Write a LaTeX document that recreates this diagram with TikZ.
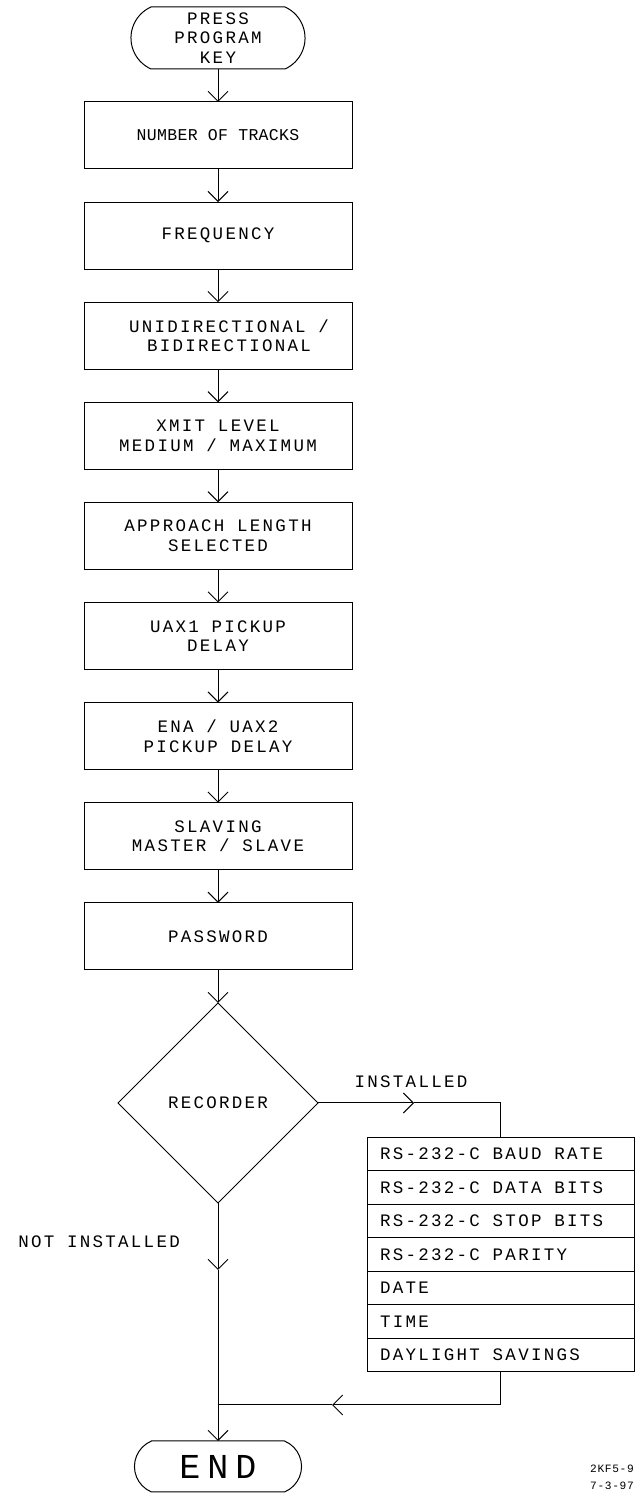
\documentclass[tikz,border=0pt]{standalone}
\usepackage{fontspec}
\usetikzlibrary{arrows.meta,shapes.geometric}
\newfontfamily\cadfont[LetterSpace=13]{Liberation Mono}
\newfontfamily\cadplain[LetterSpace=2]{Liberation Mono}
\newfontfamily\cadwide[LetterSpace=20]{Liberation Mono}
\newfontfamily\cadsmall[LetterSpace=6]{Liberation Mono}
% terminal outline: #1 node, #2 sagitta, #3 radius, #4 half angle
\newcommand\drawterm[4]{%
  \draw[line] ([xshift=#2pt]#1.north west) -- ([xshift=-#2pt]#1.north east)
    arc[start angle=#4, end angle=-#4, radius=#3pt]
    -- ([xshift=#2pt]#1.south west)
    arc[start angle=180+#4, end angle=180-#4, radius=#3pt] -- cycle;}
\begin{document}
\begin{tikzpicture}[x=1pt,y=1pt,
  line/.style={line width=1pt, line join=miter},
  arr/.style={line, -{Straight Barb[length=10pt,width=20pt,line width=1pt]}},
  txt/.style={font=\cadfont\fontsize{17.5}{19.5}\selectfont},
  term/.style={txt, draw=none, inner sep=0pt, outer sep=0pt, align=center},
  box/.style={txt, draw, line width=1pt, inner sep=0pt, outer sep=0pt,
    minimum width=268pt, minimum height=67pt, align=center},
  dec/.style={txt, draw, line width=1pt, shape=diamond, aspect=1, inner sep=0pt,
    outer sep=0pt, minimum width=200pt, minimum height=200pt},
  rsrow/.style={txt, draw, line width=1pt, outer sep=0pt, inner xsep=13pt, inner ysep=0pt,
    minimum width=267pt, minimum height=33.57pt, text width=241pt, align=left,
    text height=11.5pt, text depth=0pt,
    execute at begin node={\spaceskip=0pt\xspaceskip=0pt\relax}},
  lbl/.style={txt, inner sep=0pt}]
\useasboundingbox (0,0) rectangle (638,1493);

% start terminal
\node[term, minimum width=174pt, minimum height=62pt] (start) at (218,1455)
  {PRESS\\PROGRAM\\KEY};
\drawterm{start}{20}{34}{65.75}

% main column
\node[box, font=\cadplain\fontsize{16.5}{19}\selectfont] (b1) at (218,1357.5) {NUMBER OF TRACKS};
\node[box] (b2) at (218,1257.4) {FREQUENCY};
\node[box] (b3) at (218,1157.3) {\hspace*{22pt}UNIDIRECTIONAL /\\\hspace*{22pt}\phantom{UN}BIDIRECTIONAL\phantom{ /}};
\node[box] (b4) at (218,1057.2) {XMIT LEVEL\\MEDIUM / MAXIMUM};
\node[box] (b5) at (218,957.1) {APPROACH LENGTH\\SELECTED};
\node[box] (b6) at (218,857) {UAX1 PICKUP\\DELAY};
\node[box] (b7) at (218,756.9) {ENA / UAX2\\PICKUP DELAY};
\node[box] (b8) at (218,656.8) {SLAVING\\MASTER / SLAVE};
\node[box] (b9) at (218,556.7) {PASSWORD};

\node[dec] (dia) at (218,390) {RECORDER};

% RS-232 stack
\node[rsrow] (rs1) at (500.5,339.2) {RS-232-C BAUD RATE};
\node[rsrow] (rs2) at (500.5,305.6) {RS-232-C DATA BITS};
\node[rsrow] (rs3) at (500.5,272.1) {RS-232-C STOP BITS};
\node[rsrow] (rs4) at (500.5,238.5) {RS-232-C PARITY};
\node[rsrow] (rs5) at (500.5,204.9) {DATE};
\node[rsrow] (rs6) at (500.5,171.4) {TIME};
\node[rsrow] (rs7) at (500.5,137.8) {DAYLIGHT SAVINGS};

% end terminal
\node[draw=none, inner sep=0pt, outer sep=0pt, minimum width=167pt, minimum height=51pt,
  font=\cadwide\fontsize{35}{38}\selectfont] (end) at (218,26.5) {END};
\drawterm{end}{17}{27.6}{67.5}

% labels
\node[lbl] (inst) at (411,411) {INSTALLED};
\node[lbl, anchor=east] (notinst) at (180,251) {NOT INSTALLED};
\node[font=\cadsmall\fontsize{11.2}{12}\selectfont, inner sep=0pt, anchor=east] (id1) at (634,24) {2KF5-9};
\node[font=\cadsmall\fontsize{11.2}{12}\selectfont, inner sep=0pt, anchor=east] (id2) at (634,7) {7-3-97};

% helper coordinates
\coordinate (tipI) at (414,390);
\coordinate (tipN) at (218,223);
\coordinate (tipR) at (332,88);
\coordinate (joinR) at (218,88);

% connectors
\draw[arr] (start) -- (b1);
\draw[arr] (b1) -- (b2);
\draw[arr] (b2) -- (b3);
\draw[arr] (b3) -- (b4);
\draw[arr] (b4) -- (b5);
\draw[arr] (b5) -- (b6);
\draw[arr] (b6) -- (b7);
\draw[arr] (b7) -- (b8);
\draw[arr] (b8) -- (b9);
\draw[arr] (b9) -- (dia);
\draw[arr] (dia.east) -- (tipI);
\draw[line] (tipI) -| (rs1.north);
\draw[arr] (dia.south) -- (tipN);
\draw[arr] (tipN) -- (end);
\draw[arr] (rs7.south) |- (tipR);
\draw[line] (tipR) -- (joinR);
\end{tikzpicture}
\end{document}
